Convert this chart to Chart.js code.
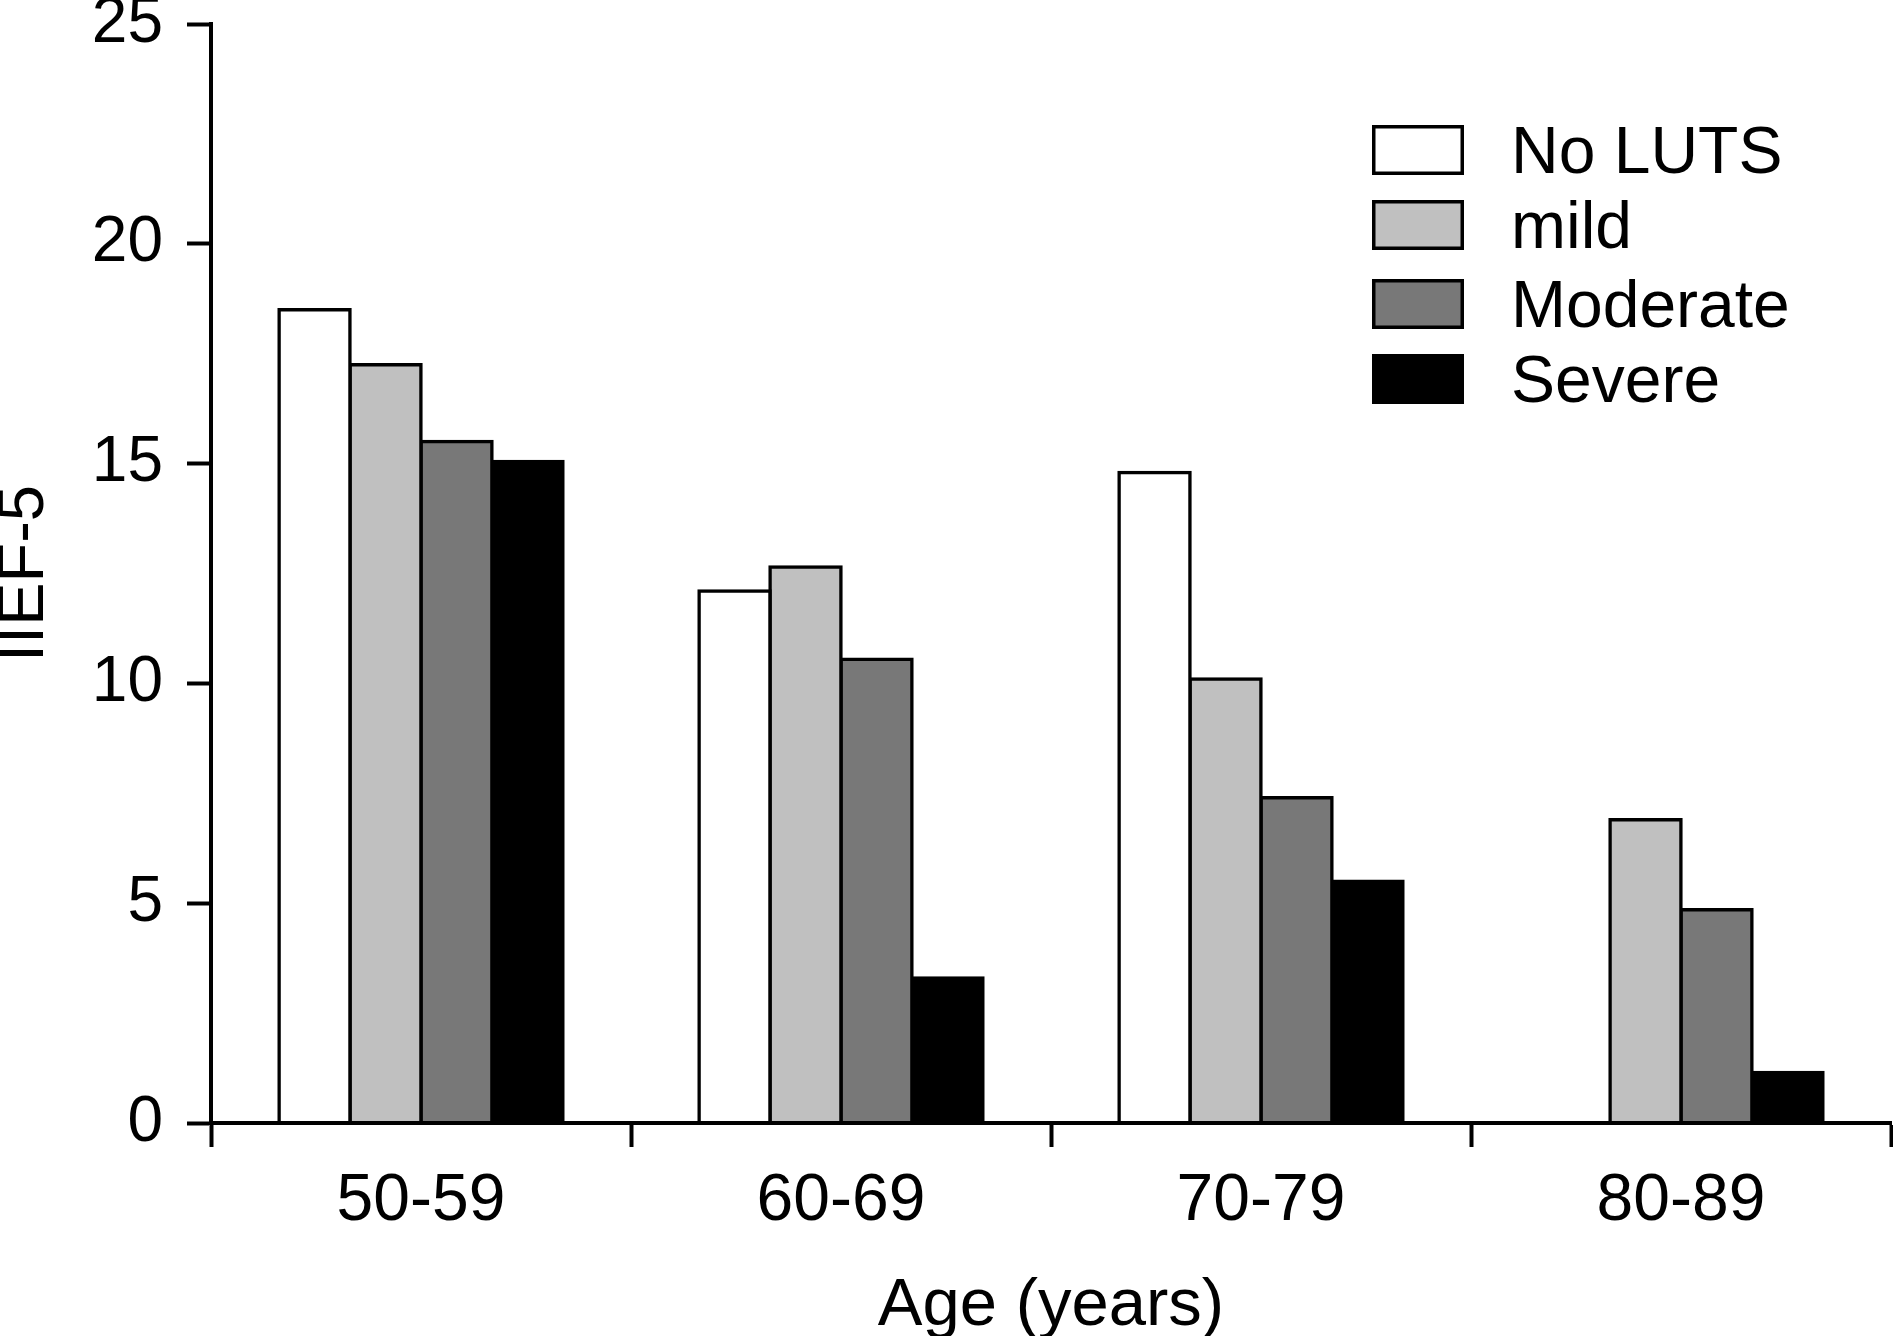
<!DOCTYPE html>
<html>
<head>
<meta charset="utf-8">
<title>IIEF-5 by age and LUTS</title>
<script src="https://cdn.jsdelivr.net/npm/chart.js@4.4.0/dist/chart.umd.min.js"></script>
<style>
    html, body { margin: 0; padding: 0; background: #ffffff; }
    #wrap { width: 1893px; height: 1336px; }
</style>
</head>
<body>
<div id="wrap"><canvas id="iief-chart" width="1893" height="1336"></canvas></div>
<script>
    "use strict";

    // Data
    var ageGroups = ['50-59', '60-69', '70-79', '80-89'];
    var seriesLabels = ['No LUTS', 'mild', 'Moderate', 'Severe'];
    var noLuts = [18.5, 12.1, 14.8, null];
    var mild = [17.25, 12.65, 10.1, 6.9];
    var moderate = [15.5, 10.55, 7.4, 4.85];
    var severe = [15.05, 3.3, 5.5, 1.15];
    var yMin = 0;
    var yMax = 25;
    var yStep = 5;

    var seriesColors = ['#ffffff', '#c0c0c0', '#787878', '#000000'];
    var fontFamily = '"Liberation Sans", Arial, Helvetica, sans-serif';

    // Chart Global Color
    Chart.defaults.color = "#000000";
    Chart.defaults.font.family = fontFamily;

    // Legend drawn inside the plot area, like the original figure
    var insideLegend = {
        id: 'insideLegend',
        afterDraw: function (chart) {
            var ctx = chart.ctx;
            var rows = [150, 225, 304, 379];
            ctx.save();
            ctx.font = '66px ' + fontFamily;
            ctx.textBaseline = 'middle';
            ctx.textAlign = 'left';
            chart.data.datasets.forEach(function (ds, i) {
                var cy = rows[i];
                ctx.fillStyle = ds.backgroundColor;
                ctx.fillRect(1372, cy - 25, 92, 50);
                ctx.lineWidth = 3.5;
                ctx.strokeStyle = '#000000';
                ctx.strokeRect(1373.75, cy - 23.25, 88.5, 46.5);
                ctx.fillStyle = '#000000';
                ctx.fillText(ds.label, 1511, cy + 5);
            });
            ctx.restore();
        }
    };

    // one thin shared line between touching bars: border centred on the edge
    var datasets = [noLuts, mild, moderate, severe].map(function (values, i) {
        return {
            label: seriesLabels[i],
            data: values,
            backgroundColor: seriesColors[i],
            borderColor: '#000000',
            borderWidth: 3.5,
            inflateAmount: 1.75,
            borderSkipped: 'bottom',
            categoryPercentage: 0.676,
            barPercentage: 1.0
        };
    });

    var ctx = document.getElementById('iief-chart').getContext('2d');
    var myChart = new Chart(ctx, {
        type: 'bar',
        data: {
            labels: ageGroups,
            datasets: datasets
        },
        plugins: [insideLegend],
        options: {
            responsive: false,
            animation: false,
            layout: {
                padding: { top: 24, right: 2, left: 0, bottom: 0 }
            },
            plugins: {
                legend: { display: false },
                tooltip: { enabled: false }
            },
            scales: {
                x: {
                    grid: {
                        offset: true,
                        drawOnChartArea: false,
                        drawTicks: true,
                        tickLength: 24,
                        tickWidth: 4,
                        tickColor: '#000000'
                    },
                    border: { display: true, color: '#000000', width: 4, z: 1 },
                    ticks: {
                        font: { size: 66, lineHeight: 1.2 },
                        color: '#000000',
                        padding: 15,
                        maxRotation: 0
                    },
                    title: {
                        display: true,
                        text: 'Age (years)',
                        font: { size: 67, lineHeight: 0.85 },
                        color: '#000000',
                        padding: { top: 0, bottom: 1 }
                    },
                    afterFit: function (scale) {
                        scale.height = 213;
                        scale.paddingLeft = 0;
                        scale.paddingRight = 0;
                    }
                },
                y: {
                    min: yMin,
                    max: yMax,
                    grid: {
                        drawOnChartArea: false,
                        drawTicks: true,
                        tickLength: 24,
                        tickWidth: 4,
                        tickColor: '#000000'
                    },
                    border: { display: true, color: '#000000', width: 4, z: 1 },
                    ticks: {
                        stepSize: yStep,
                        font: { size: 64 },
                        color: '#000000',
                        padding: 24
                    },
                    title: {
                        display: true,
                        text: 'IIEF-5',
                        font: { size: 65, lineHeight: 0.78 },
                        color: '#000000',
                        padding: { top: 0, bottom: 0 }
                    },
                    afterFit: function (scale) {
                        scale.width = 211;
                        scale.paddingTop = 0;
                        scale.paddingBottom = 0;
                    }
                }
            }
        }
    });
</script>
</body>
</html>
